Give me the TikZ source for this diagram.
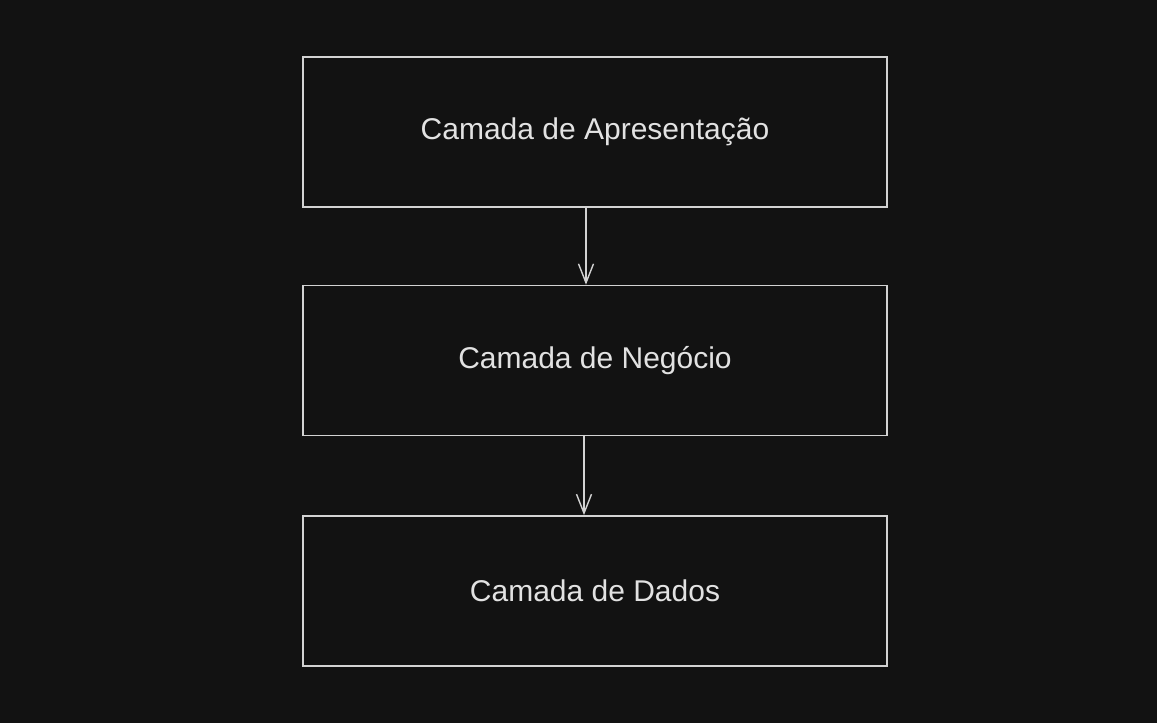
\documentclass[tikz,border=0pt]{standalone}
\usepackage{fontspec}
\setmainfont{Liberation Sans}
\usepackage{xcolor}
\usetikzlibrary{arrows.meta,positioning}
\definecolor{bgdark}{HTML}{121212}
\definecolor{inkline}{HTML}{D2D2D2}
\definecolor{inktext}{HTML}{E2E2E2}

\begin{document}
\begin{tikzpicture}[
  x=1pt, y=1pt,
  node distance=77pt,
  >={Straight Barb[length=19pt,width=15pt]},
  layer/.style={draw=inkline, line width=1.4pt, minimum width=584pt, minimum height=150pt,
    inner sep=0pt, text=inktext, font=\fontsize{30}{36}\selectfont},
]
\fill[bgdark] (0,0) rectangle (1157,-723);
\useasboundingbox (0,0) rectangle (1157,-723);
\node[layer]                   (apres) at (595,-132) {Camada de Apresentação};
\node[layer,below=of apres]    (neg)  {Camada de Negócio};
\node[layer,below=79pt of neg] (dados) {Camada de Dados};
% connectors, slightly left of centre as in the sketch
\draw[->, inkline, line width=1.4pt] ([xshift=-9pt]apres.south) -- ([xshift=-9pt]neg.north);
\draw[->, inkline, line width=1.4pt] ([xshift=-11pt]neg.south) -- ([xshift=-11pt]dados.north);
\end{tikzpicture}
\end{document}
